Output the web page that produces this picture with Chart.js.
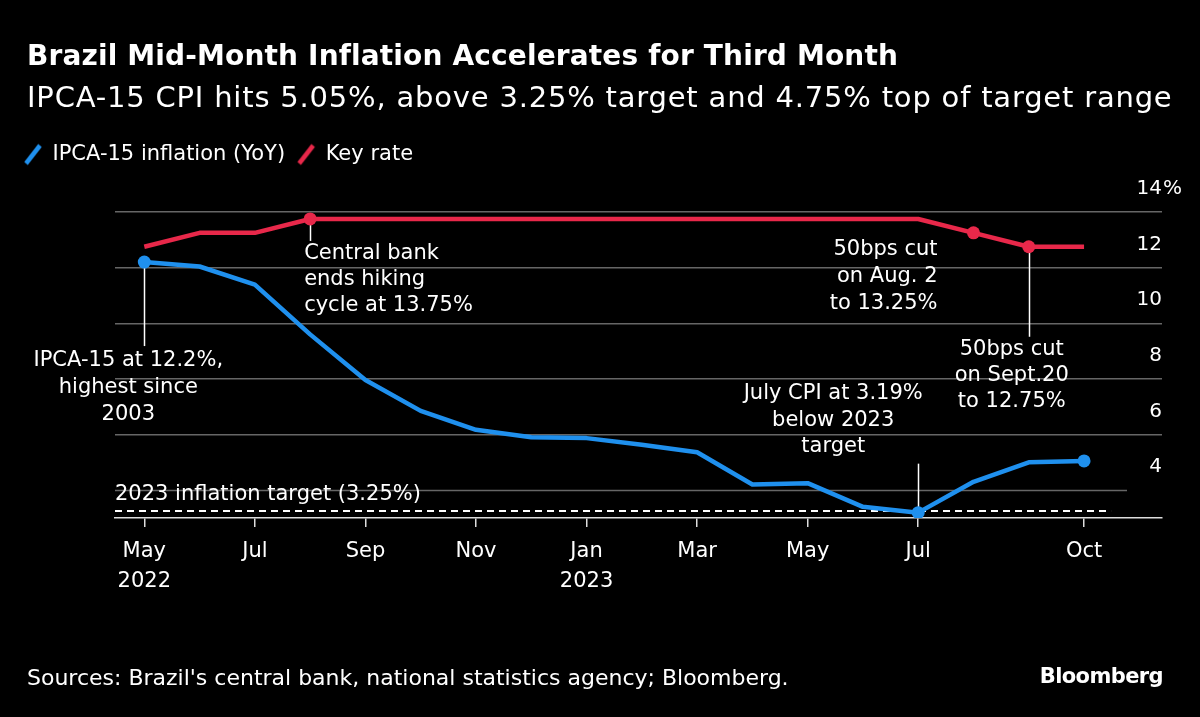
<!DOCTYPE html>
<html><head><meta charset="utf-8">
<script src="https://cdn.jsdelivr.net/npm/chart.js@4.4.0/dist/chart.umd.min.js"></script>
<style>
html,body{margin:0;padding:0;background:#000;}
#wrap{position:relative;width:1200px;height:717px;background:#000;overflow:hidden;font-family:"DejaVu Sans",sans-serif;color:#fff;}
#c{position:absolute;left:0;top:0;}
.t{position:absolute;white-space:nowrap;}
#title{left:27px;top:39px;font-size:28px;font-weight:bold;letter-spacing:0.15px;}
#subtitle{left:27px;top:80px;font-size:29px;letter-spacing:0.8px;}
#source{left:27px;top:665px;font-size:22px;}
#brand{right:37px;top:664px;font-size:21px;font-weight:bold;letter-spacing:-0.6px;}
</style></head>
<body><div id="wrap">
<canvas id="c" width="1200" height="717"></canvas>
<div class="t" id="title">Brazil Mid-Month Inflation Accelerates for Third Month</div>
<div class="t" id="subtitle">IPCA-15 CPI hits 5.05%, above 3.25% target and 4.75% top of target range</div>
<div class="t" id="source">Sources: Brazil's central bank, national statistics agency; Bloomberg.</div>
<div class="t" id="brand">Bloomberg</div>
</div>
<script>
// ---- data ----
const monthLabels = [["May","2022"],"Jun","Jul","Aug","Sep","Oct","Nov","Dec",["Jan","2023"],"Feb","Mar","Apr","May","Jun","Jul","Aug","Sep","Oct"];
const ipca15 = [12.2,12.04,11.39,9.6,7.96,6.85,6.17,5.9,5.87,5.63,5.36,4.2,4.25,3.4,3.19,4.3,5.0,5.05];
const keyRate = [12.75,13.25,13.25,13.75,13.75,13.75,13.75,13.75,13.75,13.75,13.75,13.75,13.75,13.75,13.75,13.25,12.75,12.75];
const xTickIdx = [0,2,4,6,8,10,12,14,17];
const yTickVals = [4,6,8,10,12,14];
const inflationTarget = 3.25;
const ipcaMarkers = [0,14,17];
const rateMarkers = [3,15,16];
const seriesNames = ["IPCA-15 inflation (YoY)","Key rate"];

const BLUE = '#1f90ee', RED = '#e8284a', FONT = '"DejaVu Sans", sans-serif';

// annotation texts anchored to data points
const notes = [
  {ds:0, idx:0,  lines:["IPCA-15 at 12.2%,","highest since","2003"], align:'center', dx:-16, dy:98, lh:27, lineTo:84},
  {ds:1, idx:3,  lines:["Central bank","ends hiking","cycle at 13.75%"], align:'left', dx:-6, dy:35, lh:26, lineTo:22},
  {ds:1, idx:15, lines:["50bps cut","on Aug. 2","to 13.25%"], align:'right', dx:-36, dy:17, lh:27, lineTo:null},
  {ds:1, idx:16, lines:["50bps cut","on Sept.20","to 12.75%"], align:'center', dx:-17, dy:103, lh:26, lineTo:90},
  {ds:0, idx:14, lines:["July CPI at 3.19%","below 2023","target"], align:'center', dx:-85, dy:-119, lh:26.5, lineTo:-49}
];

function legendIcon(color){
  const c = document.createElement('canvas'); c.width = 20; c.height = 24;
  const g = c.getContext('2d'); g.strokeStyle = color; g.lineWidth = 4.5;
  g.beginPath(); g.moveTo(3,21); g.lineTo(17,3); g.stroke();
  return c;
}
const icons = [legendIcon(BLUE), legendIcon(RED)];

const extras = {
  id:'extras',
  beforeDatasetsDraw(chart){
    const {ctx, chartArea:a, scales:{x,y}} = chart;
    ctx.save();
    // shorter 4% gridline
    ctx.strokeStyle = '#666'; ctx.lineWidth = 1.5;
    const y4 = Math.round(y.getPixelForValue(4))+0.5;
    ctx.beginPath(); ctx.moveTo(a.left, y4); ctx.lineTo(a.right-35, y4); ctx.stroke();
    // target dashed line
    const yt = y.getPixelForValue(inflationTarget);
    ctx.strokeStyle = '#fff'; ctx.lineWidth = 2; ctx.setLineDash([7,5]);
    ctx.beginPath(); ctx.moveTo(a.left, yt); ctx.lineTo(x.getPixelForValue(ipca15.length-1)+27, yt); ctx.stroke();
    ctx.setLineDash([]);
    // connectors
    ctx.strokeStyle = '#fff'; ctx.lineWidth = 1.5;
    notes.forEach(n=>{
      if(n.lineTo===null) return;
      const p = chart.getDatasetMeta(n.ds).data[n.idx];
      const px = Math.round(p.x)+0.5;
      ctx.beginPath(); ctx.moveTo(px, p.y); ctx.lineTo(px, p.y+n.lineTo); ctx.stroke();
    });
    ctx.restore();
  },
  afterDraw(chart){
    const {ctx, chartArea:a, scales:{x,y}} = chart;
    ctx.save();
    ctx.fillStyle = '#fff';
    ctx.font = '21px '+FONT; ctx.textBaseline = 'middle';
    notes.forEach(n=>{
      const p = chart.getDatasetMeta(n.ds).data[n.idx];
      ctx.textAlign = n.align;
      n.lines.forEach((t,i)=>ctx.fillText(t, p.x+n.dx, p.y+n.dy+i*n.lh));
    });
    ctx.textAlign = 'left';
    ctx.fillText('2023 inflation target (3.25%)', a.left, y.getPixelForValue(inflationTarget)-16);
    // percent sign on top tick
    ctx.font = '20px '+FONT;
    ctx.fillText('%', a.right+1, y.getPixelForValue(yTickVals[yTickVals.length-1])-23);
    ctx.restore();
  }
};

new Chart(document.getElementById('c'), {
  type:'line',
  data:{
    datasets:[
      {label:seriesNames[0], data:ipca15.map((v,i)=>({x:i,y:v})), xAxisID:'x', yAxisID:'y', borderColor:BLUE, backgroundColor:BLUE,
       borderWidth:4.5, tension:0, borderJoinStyle:'round',
       pointRadius:c=>ipcaMarkers.includes(c.dataIndex)?6.5:0, pointHoverRadius:c=>ipcaMarkers.includes(c.dataIndex)?6.5:0, pointBorderWidth:0},
      {label:seriesNames[1], data:keyRate.map((v,i)=>({x:i,y:v})), xAxisID:'x', yAxisID:'y', borderColor:RED, backgroundColor:RED,
       borderWidth:4.5, tension:0, borderJoinStyle:'round',
       pointRadius:c=>rateMarkers.includes(c.dataIndex)?6.5:0, pointHoverRadius:c=>rateMarkers.includes(c.dataIndex)?6.5:0, pointBorderWidth:0}
    ]
  },
  options:{
    responsive:false, animation:false, events:[],
    layout:{padding:{left:12, right:38, top:132, bottom:110}},
    plugins:{
      tooltip:{enabled:false},
      legend:{position:'top', align:'start',
        labels:{color:'#fff', font:{family:FONT, size:21}, usePointStyle:true, pointStyleWidth:18, padding:12,
          generateLabels:ch=>ch.data.datasets.map((d,i)=>({text:d.label, pointStyle:icons[i], fillStyle:d.borderColor, strokeStyle:d.borderColor, lineWidth:0, fontColor:'#fff', datasetIndex:i, hidden:false}))}
      }
    },
    scales:{
      x:{type:'linear', min:-0.53, max:18.41,
         afterBuildTicks:s=>{s.ticks = xTickIdx.map(v=>({value:v}));},
         grid:{drawOnChartArea:false, drawTicks:true, tickLength:9, tickColor:'#ddd', lineWidth:1.5},
         border:{display:true, color:'#ddd', width:1.5},
         ticks:{color:'#fff', font:{family:FONT, size:21, lineHeight:1.43}, padding:10, maxRotation:0, autoSkip:false,
                callback:v=>monthLabels[v]}},
      y:{position:'right', min:3, max:14,
         afterBuildTicks:s=>{s.ticks = yTickVals.map(v=>({value:v}));},
         grid:{drawTicks:false, color:c=>c.tick && c.tick.value===4 ? 'rgba(0,0,0,0)' : '#666', lineWidth:1.5},
         border:{display:false},
         ticks:{mirror:true, padding:0, labelOffset:-23, color:'#fff', font:{family:FONT, size:20}, callback:v=>String(v)}},
      yl:{position:'left', display:true, grid:{display:false}, ticks:{display:false}, border:{display:false},
          afterFit:s=>{s.width = 103;}},
      xt:{position:'top', type:'linear', display:true, grid:{display:false}, ticks:{display:false}, border:{display:false},
          afterFit:s=>{s.height = 37;}}
    }
  },
  plugins:[extras]
});
</script>
</body></html>
